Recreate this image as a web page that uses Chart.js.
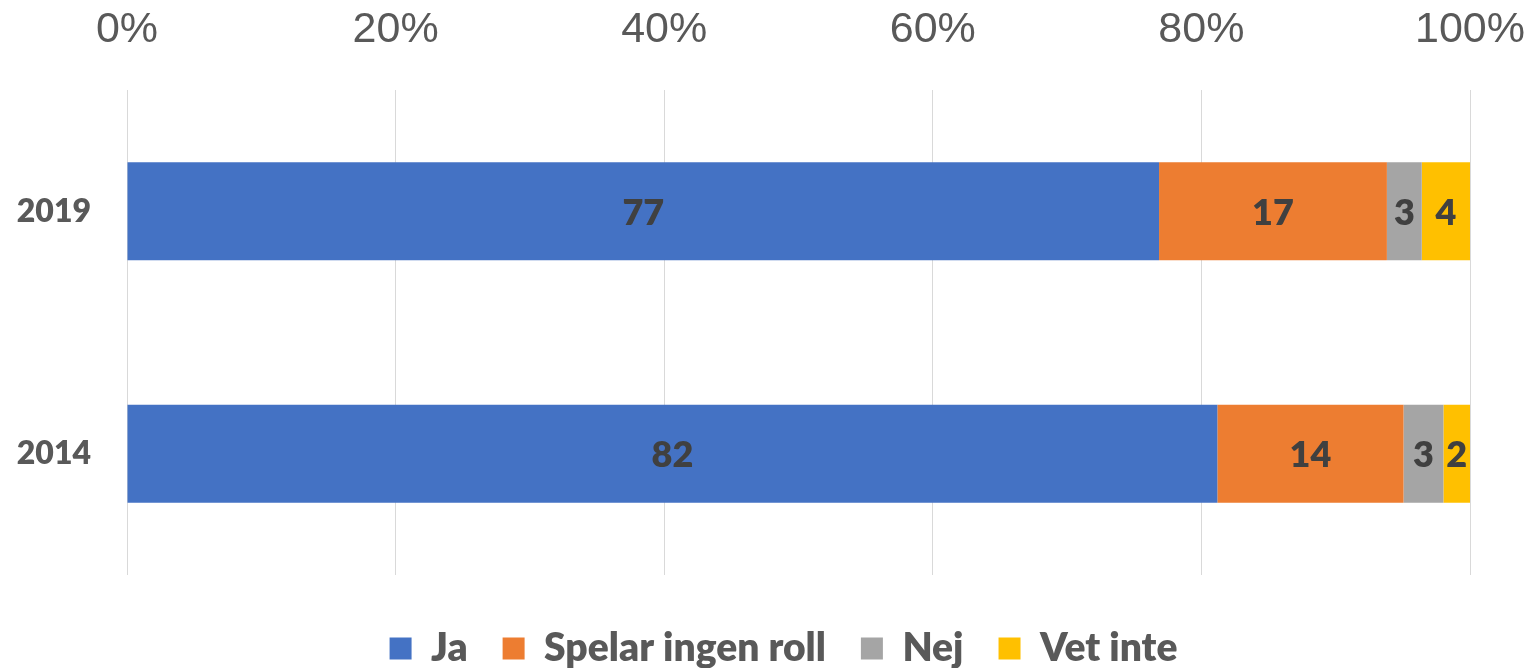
<!DOCTYPE html>
<html>
<head>
<meta charset="utf-8">
<script src="https://cdn.jsdelivr.net/npm/chart.js@4.4.1/dist/chart.umd.min.js"></script>
<style>
  html, body { margin: 0; padding: 0; background: #fff; }
  #wrap { width: 1534px; height: 668px; position: relative; }
</style>
</head>
<body>
<div id="wrap"><canvas id="chart"></canvas></div>
<script>
  // values (percent per answer)
  const categories = ["2019", "2014"];
  const seriesNames = ["Ja", "Spelar ingen roll", "Nej", "Vet inte"];
  const ja = [77, 82];
  const spelarIngenRoll = [17, 14];
  const nej = [2.6, 3];
  const vetInte = [3.6, 2];
  const tickLabels = ["0%", "20%", "40%", "60%", "80%", "100%"];
  const colors = ["#4472C4", "#ED7D31", "#A5A5A5", "#FFC000"];

  const seriesValues = [ja, spelarIngenRoll, nej, vetInte];

  // 100% stacked: share of each category total
  const totals = categories.map(function (_, i) {
    return seriesValues.reduce(function (s, arr) { return s + arr[i]; }, 0);
  });

  const datasets = seriesValues.map(function (arr, k) {
    return {
      label: seriesNames[k],
      data: arr.map(function (v, i) { return (v / totals[i]) * 100; }),
      raw: arr,
      backgroundColor: colors[k],
      borderWidth: 0,
      categoryPercentage: 1,
      barPercentage: 0.405,
    };
  });

  /* ==========================
     VALUE LABELS IN BARS
  ========================== */
  const barLabels = {
    id: "barLabels",
    afterDatasetsDraw(chart) {
      const ctx = chart.ctx;
      ctx.save();
      ctx.font = "800 36px Lato";
      ctx.fillStyle = "#404040";
      ctx.textAlign = "center";
      ctx.textBaseline = "middle";
      chart.data.datasets.forEach(function (ds, k) {
        const meta = chart.getDatasetMeta(k);
        meta.data.forEach(function (bar, i) {
          const cx = (bar.x + bar.base) / 2;
          ctx.fillText(String(Math.round(ds.raw[i])), cx, bar.y + 2);
        });
      });
      ctx.restore();
    },
  };

  // nudge the legend a bit left, like the original
  const legendShift = {
    id: "legendShift",
    afterLayout(chart) {
      if (chart.legend) {
        chart.legend.left -= 15;
        chart.legend.right -= 15;
      }
    },
  };

  new Chart(document.getElementById("chart").getContext("2d"), {
    type: "bar",
    data: { labels: categories, datasets: datasets },
    plugins: [barLabels, legendShift],
    options: {
      indexAxis: "y",
      responsive: true,
      maintainAspectRatio: false,
      animation: false,
      layout: { padding: { top: 0, right: 64, bottom: -10, left: 0 } },
      scales: {
        x: {
          position: "top",
          stacked: true,
          min: 0,
          max: 100,
          afterFit: function (scale) {
            scale.height = 90;
            scale.paddingLeft = 0;
            scale.paddingRight = 0;
          },
          ticks: {
            stepSize: 20,
            padding: 34,
            color: "#595959",
            font: { family: "Liberation Sans", size: 43 },
            callback: function (v) { return tickLabels[v / 20]; },
          },
          grid: { color: "#d9d9d9", lineWidth: 1, drawTicks: false },
          border: { display: false },
        },
        y: {
          stacked: true,
          afterFit: function (scale) { scale.width = 127; },
          ticks: {
            padding: 36,
            color: "#595959",
            font: { family: "Lato", size: 32, weight: "800" },
          },
          grid: { display: false, drawTicks: false },
          border: { display: false },
        },
      },
      plugins: {
        legend: {
          position: "bottom",
          fullSize: false,
          title: { display: true, text: "", font: { size: 10 }, padding: 3.5 },
          labels: {
            boxWidth: 22,
            boxHeight: 22,
            padding: 35,
            color: "#595959",
            font: { family: "Lato", size: 39, weight: "800" },
          },
        },
        tooltip: { enabled: false },
      },
    },
  });
</script>
</body>
</html>
